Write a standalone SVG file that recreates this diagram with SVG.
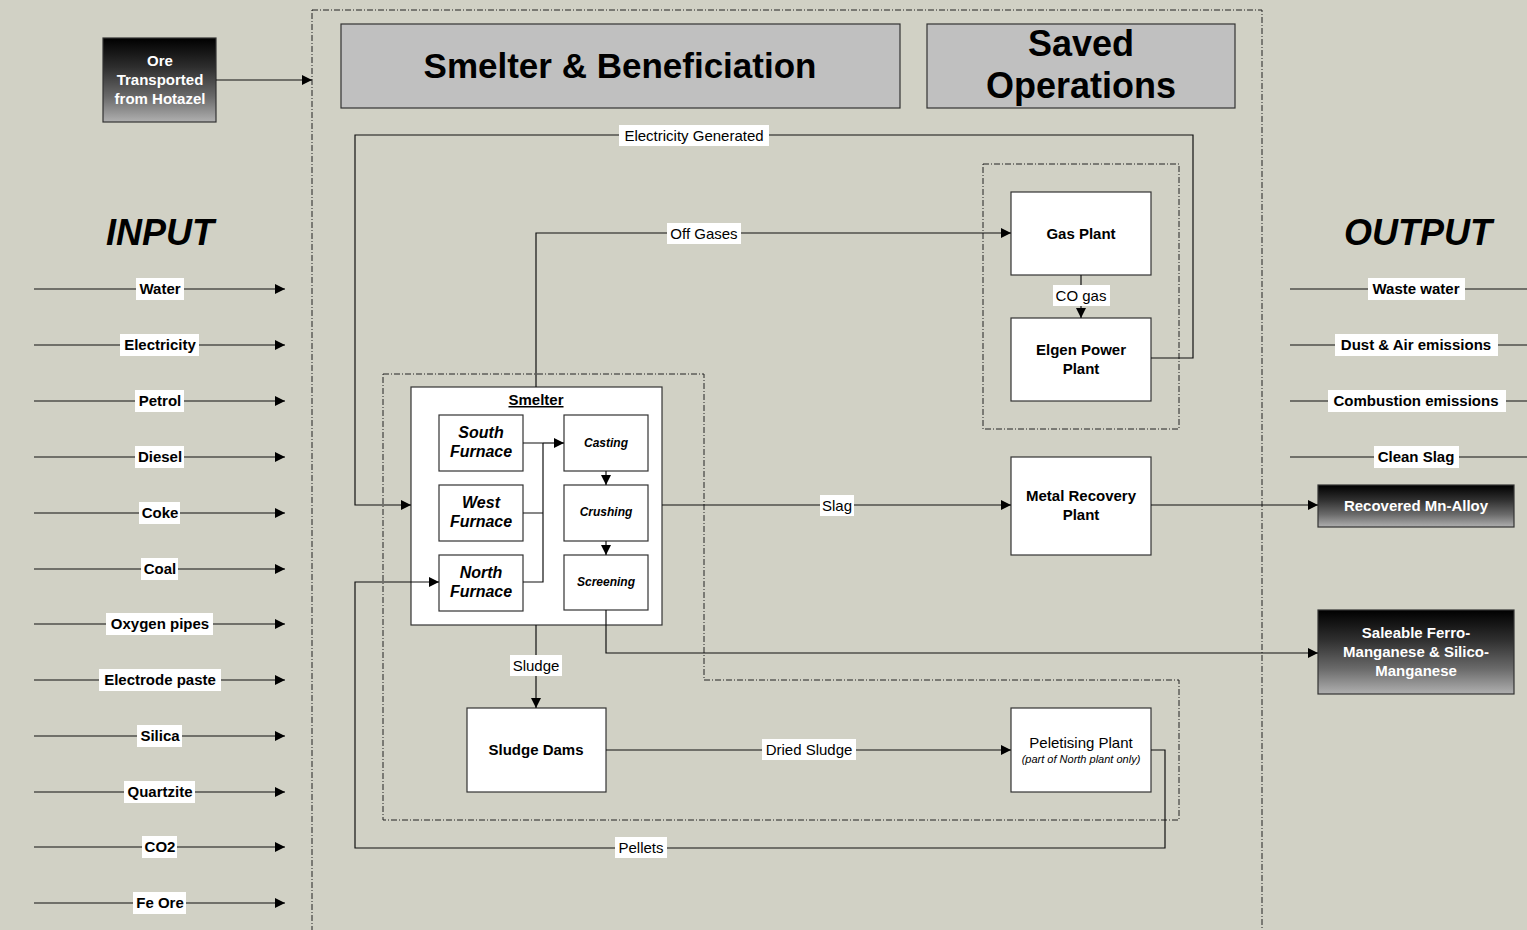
<svg xmlns="http://www.w3.org/2000/svg" width="1527" height="930" viewBox="0 0 1527 930">
<defs>
<marker id="arr" viewBox="0 0 10 10" refX="10" refY="5" markerWidth="11" markerHeight="10" markerUnits="userSpaceOnUse" orient="auto">
<path d="M0,0 L10,5 L0,10 Z" fill="#000"/>
</marker>
<linearGradient id="dark" x1="0" y1="0" x2="0" y2="1">
<stop offset="0" stop-color="#000"/>
<stop offset="0.35" stop-color="#2e2e2e"/>
<stop offset="0.7" stop-color="#6a6a6a"/>
<stop offset="1" stop-color="#b0b0b0"/>
</linearGradient>
<style>
.bg{fill:#d1d1c5}
.dash{fill:none;stroke:#222;stroke-width:1;stroke-dasharray:6 2 1 2}
.box{fill:#fff;stroke:#333;stroke-width:1.2}
.title{fill:#c0c0c0;stroke:#333;stroke-width:1.2}
.dk{fill:url(#dark);stroke:#333;stroke-width:1.2}
.ln{fill:none;stroke:#111;stroke-width:1.2}
.lbg{fill:#fff}
text{font-family:"Liberation Sans",Arial,sans-serif;text-anchor:middle;fill:#000}
.lab{font-size:15px}
.blab{font-size:15px;font-weight:bold}
.wt{font-size:15px;font-weight:bold;fill:#fff}
.big{font-size:36px;font-weight:bold}
.hd{font-size:36px;font-weight:bold;font-style:italic}
.fur{font-size:16px;font-weight:bold;font-style:italic}
.proc{font-size:12px;font-weight:bold;font-style:italic}
</style>
</defs>
<rect class="bg" x="0" y="0" width="1527" height="930"/>

<g id="regions">
<rect class="dash" x="312" y="10" width="950" height="930"/>
<path class="dash" d="M383,374 H704 V680 H1179 V820 H383 Z"/>
<rect class="dash" x="983" y="164" width="196" height="265"/>
</g>

<g id="headers">
<rect class="title" x="341" y="24" width="559" height="84"/>
<text class="big" x="620" y="78" style="font-size:35px">Smelter &amp; Beneficiation</text>
<rect class="title" x="927" y="24" width="308" height="84"/>
<text class="big" x="1081" y="56">Saved</text>
<text class="big" x="1081" y="98">Operations</text>
<text class="hd" x="160" y="245">INPUT</text>
<text class="hd" x="1418" y="245">OUTPUT</text>
</g>

<g id="ore">
<rect class="dk" x="103" y="38" width="113" height="84"/>
<text class="wt" x="160" y="66">Ore</text>
<text class="wt" x="160" y="85">Transported</text>
<text class="wt" x="160" y="104">from Hotazel</text>
</g>

<g id="smelter">
<rect class="box" x="411" y="387" width="251" height="238"/>
<text class="blab" x="536" y="405" text-decoration="underline">Smelter</text>
</g>
<g id="south-furnace"><rect class="box" x="439" y="415" width="84" height="56"/><text class="fur" x="481" y="438">South</text><text class="fur" x="481" y="457">Furnace</text></g>
<g id="west-furnace"><rect class="box" x="439" y="485" width="84" height="56"/><text class="fur" x="481" y="508">West</text><text class="fur" x="481" y="527">Furnace</text></g>
<g id="north-furnace"><rect class="box" x="439" y="555" width="84" height="56"/><text class="fur" x="481" y="578">North</text><text class="fur" x="481" y="597">Furnace</text></g>
<g id="casting"><rect class="box" x="564" y="415" width="84" height="56"/><text class="proc" x="606" y="447">Casting</text></g>
<g id="crushing"><rect class="box" x="564" y="485" width="84" height="56"/><text class="proc" x="606" y="516">Crushing</text></g>
<g id="screening"><rect class="box" x="564" y="555" width="84" height="55"/><text class="proc" x="606" y="586">Screening</text></g>

<g id="gas-plant"><rect class="box" x="1011" y="192" width="140" height="83"/><text class="blab" x="1081" y="239">Gas Plant</text></g>
<g id="elgen"><rect class="box" x="1011" y="318" width="140" height="83"/><text class="blab" x="1081" y="355">Elgen Power</text><text class="blab" x="1081" y="374">Plant</text></g>
<g id="metal-recovery"><rect class="box" x="1011" y="457" width="140" height="98"/><text class="blab" x="1081" y="501">Metal Recovery</text><text class="blab" x="1081" y="520">Plant</text></g>
<g id="sludge-dams"><rect class="box" x="467" y="708" width="139" height="84"/><text class="blab" x="536" y="755">Sludge Dams</text></g>
<g id="peletising"><rect class="box" x="1011" y="708" width="140" height="84"/><text class="lab" x="1081" y="748">Peletising Plant</text><text x="1081" y="763" style="font-size:11px;font-style:italic">(part of North plant only)</text></g>

<g id="recovered"><rect class="dk" x="1318" y="485" width="196" height="42"/><text class="wt" x="1416" y="511">Recovered Mn-Alloy</text></g>
<g id="saleable"><rect class="dk" x="1318" y="610" width="196" height="84"/><text class="wt" x="1416" y="638">Saleable Ferro-</text><text class="wt" x="1416" y="657">Manganese &amp; Silico-</text><text class="wt" x="1416" y="676">Manganese</text></g>

<g id="connectors">
<path class="ln" d="M216,80 H312" marker-end="url(#arr)"/>
<path class="ln" d="M1151,358 H1193 V135 H355 V505 H411" marker-end="url(#arr)"/>
<path class="ln" d="M536,387 V233 H1011" marker-end="url(#arr)"/>
<path class="ln" d="M1081,275 V318" marker-end="url(#arr)"/>
<path class="ln" d="M523,443 H543 M523,513 H543 M523,582 H543 V443"/>
<path class="ln" d="M543,443 H564" marker-end="url(#arr)"/>
<path class="ln" d="M606,471 V485" marker-end="url(#arr)"/>
<path class="ln" d="M606,541 V555" marker-end="url(#arr)"/>
<path class="ln" d="M662,505 H1011" marker-end="url(#arr)"/>
<path class="ln" d="M1151,505 H1318" marker-end="url(#arr)"/>
<path class="ln" d="M606,610 V653 H1318" marker-end="url(#arr)"/>
<path class="ln" d="M536,625 V708" marker-end="url(#arr)"/>
<path class="ln" d="M606,750 H1011" marker-end="url(#arr)"/>
<path class="ln" d="M1151,750 H1165 V848 H355 V582 H439" marker-end="url(#arr)"/>
<path class="ln" d="M34,289 H285" marker-end="url(#arr)"/>
<path class="ln" d="M34,345 H285" marker-end="url(#arr)"/>
<path class="ln" d="M34,401 H285" marker-end="url(#arr)"/>
<path class="ln" d="M34,457 H285" marker-end="url(#arr)"/>
<path class="ln" d="M34,513 H285" marker-end="url(#arr)"/>
<path class="ln" d="M34,569 H285" marker-end="url(#arr)"/>
<path class="ln" d="M34,624 H285" marker-end="url(#arr)"/>
<path class="ln" d="M34,680 H285" marker-end="url(#arr)"/>
<path class="ln" d="M34,736 H285" marker-end="url(#arr)"/>
<path class="ln" d="M34,792 H285" marker-end="url(#arr)"/>
<path class="ln" d="M34,847 H285" marker-end="url(#arr)"/>
<path class="ln" d="M34,903 H285" marker-end="url(#arr)"/>
<path class="ln" d="M1290,289 H1527"/>
<path class="ln" d="M1290,345 H1527"/>
<path class="ln" d="M1290,401 H1527"/>
<path class="ln" d="M1290,457 H1527"/>
</g>

<g id="connector-labels">
<rect class="lbg" x="619" y="125" width="150" height="21"/><text class="lab" x="694" y="141">Electricity Generated</text>
<rect class="lbg" x="667" y="223" width="74" height="21"/><text class="lab" x="704" y="239">Off Gases</text>
<rect class="lbg" x="1053" y="285" width="57" height="21"/><text class="lab" x="1081" y="301">CO gas</text>
<rect class="lbg" x="820" y="495" width="34" height="21"/><text class="lab" x="837" y="511">Slag</text>
<rect class="lbg" x="510" y="655" width="52" height="21"/><text class="lab" x="536" y="671">Sludge</text>
<rect class="lbg" x="762" y="739" width="94" height="21"/><text class="lab" x="809" y="755">Dried Sludge</text>
<rect class="lbg" x="615" y="837" width="52" height="21"/><text class="lab" x="641" y="853">Pellets</text>

<rect class="lbg" x="136" y="278" width="48" height="22"/><text class="blab" x="160" y="294">Water</text>
<rect class="lbg" x="120" y="334" width="79" height="22"/><text class="blab" x="160" y="350">Electricity</text>
<rect class="lbg" x="135" y="390" width="49" height="22"/><text class="blab" x="160" y="406">Petrol</text>
<rect class="lbg" x="135" y="446" width="49" height="22"/><text class="blab" x="160" y="462">Diesel</text>
<rect class="lbg" x="139" y="502" width="41" height="22"/><text class="blab" x="160" y="518">Coke</text>
<rect class="lbg" x="141" y="558" width="37" height="22"/><text class="blab" x="160" y="574">Coal</text>
<rect class="lbg" x="106" y="613" width="107" height="22"/><text class="blab" x="160" y="629">Oxygen pipes</text>
<rect class="lbg" x="99" y="669" width="122" height="22"/><text class="blab" x="160" y="685">Electrode paste</text>
<rect class="lbg" x="137" y="725" width="45" height="22"/><text class="blab" x="160" y="741">Silica</text>
<rect class="lbg" x="124" y="781" width="71" height="22"/><text class="blab" x="160" y="797">Quartzite</text>
<rect class="lbg" x="142" y="836" width="35" height="22"/><text class="blab" x="160" y="852">CO2</text>
<rect class="lbg" x="133" y="892" width="53" height="22"/><text class="blab" x="160" y="908">Fe Ore</text>

<rect class="lbg" x="1368" y="278" width="97" height="22"/><text class="blab" x="1416" y="294">Waste water</text>
<rect class="lbg" x="1335" y="334" width="163" height="22"/><text class="blab" x="1416" y="350">Dust &amp; Air emissions</text>
<rect class="lbg" x="1328" y="390" width="178" height="22"/><text class="blab" x="1416" y="406">Combustion emissions</text>
<rect class="lbg" x="1374" y="446" width="85" height="22"/><text class="blab" x="1416" y="462">Clean Slag</text>
</g>
</svg>
